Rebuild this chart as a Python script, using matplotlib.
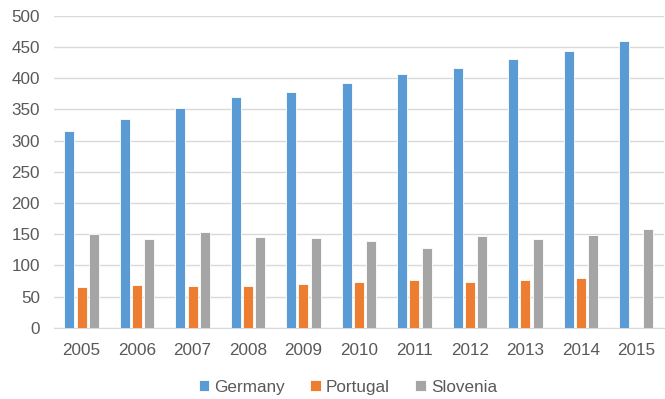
import numpy as np
import matplotlib.pyplot as plt

plt.rcParams['font.family'] = ['Liberation Sans', 'DejaVu Sans']

years = ['2005', '2006', '2007', '2008', '2009', '2010', '2011', '2012', '2013', '2014', '2015']
germany = [316, 334, 352, 370, 377, 392, 407, 416, 431, 444, 459]
portugal = [66, 69, 67, 67, 71, 74, 76, 74, 76, 80, 0]
slovenia = [151, 142, 153, 145, 144, 140, 128, 147, 143, 149, 158]

series = [('Germany', germany, '#5b9bd5'),
          ('Portugal', portugal, '#ed7d31'),
          ('Slovenia', slovenia, '#a5a5a5')]

fig = plt.figure(figsize=(6.65, 3.99), dpi=100)
ax = fig.add_axes([0.081, 0.178, 0.9175, 0.783])

x = np.arange(len(years))
w = 0.18
for i, (name, vals, col) in enumerate(series):
    ax.bar(x + (i - 1) * 0.22, vals, width=w, color=col, label=name,
           edgecolor='white', linewidth=0.6, zorder=3)

ax.set_xlim(-0.5, len(years) - 0.5)
ax.set_ylim(0, 500)
ax.set_yticks(range(0, 501, 50))
ax.set_xticks(x)
ax.set_xticklabels(years)
ax.grid(axis='y', color='#d9d9d9', linewidth=1, zorder=0)
for s in ['top', 'right', 'left']:
    ax.spines[s].set_visible(False)
ax.spines['bottom'].set_color('#d9d9d9')
ax.tick_params(axis='both', length=0, labelsize=12.3, labelcolor='#595959')
ax.tick_params(axis='x', pad=10.5)
ax.tick_params(axis='y', pad=10)

fig.legend(loc='center', bbox_to_anchor=(0.523, 0.03), ncol=3, frameon=False,
           fontsize=12.3, labelcolor='#595959', handlelength=0.6, handleheight=0.6,
           handletextpad=0.3, columnspacing=1.5)

fig.savefig('out.png', dpi=100)
